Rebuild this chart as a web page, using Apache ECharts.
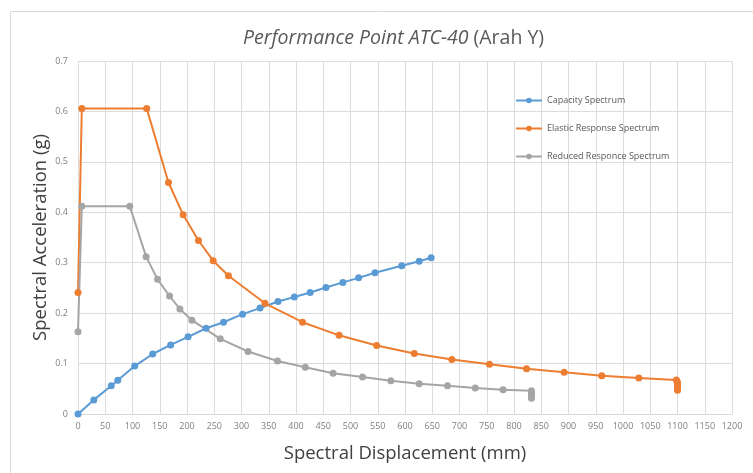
<!DOCTYPE html>
<html>
<head>
<meta charset="utf-8">
<script src="https://cdn.jsdelivr.net/npm/echarts@6/dist/echarts.min.js"></script>
<style>
html,body{margin:0;padding:0;background:#fff;}
#c{width:753px;height:473px;}
</style>
</head>
<body>
<div id="c"></div>
<script>
// ---- data ----
const capacityX = [0, 29, 61, 73, 104, 137, 170, 202, 235, 267, 302, 334, 367, 397, 426, 455, 486, 515, 545, 594, 626, 648];
const capacityY = [0, 0.028, 0.056, 0.067, 0.095, 0.119, 0.137, 0.153, 0.170, 0.182, 0.198, 0.210, 0.223, 0.232, 0.241, 0.251, 0.261, 0.270, 0.280, 0.294, 0.303, 0.310];

const elasticX = [0, 7, 126, 166, 193, 221, 248, 276, 343, 412, 479, 548, 617, 686, 755, 823, 892, 961, 1029, 1098, 1100, 1100, 1100, 1100, 1100];
const elasticY = [0.241, 0.606, 0.606, 0.459, 0.395, 0.344, 0.304, 0.274, 0.2195, 0.182, 0.156, 0.136, 0.120, 0.108, 0.0985, 0.0898, 0.0827, 0.076, 0.0714, 0.0674, 0.063, 0.059, 0.055, 0.051, 0.047];

const reducedX = [0, 7, 95, 125, 146, 168, 187, 209, 261, 312, 366, 417, 468, 522, 574, 626, 678, 729, 780, 832, 832, 832, 832, 832];
const reducedY = [0.163, 0.412, 0.412, 0.312, 0.267, 0.234, 0.208, 0.186, 0.149, 0.124, 0.105, 0.0926, 0.0807, 0.0734, 0.066, 0.060, 0.056, 0.0516, 0.048, 0.046, 0.042, 0.038, 0.034, 0.031];

const seriesNames = ['Capacity Spectrum', 'Elastic Response Spectrum', 'Reduced Responce Spectrum'];
const titleItalic = 'Performance Point ATC-40';
const titlePlain = ' (Arah Y)';
const xName = 'Spectral Displacement (mm)';
const yName = 'Spectral Acceleration (g)';

function pairs(xs, ys){ return xs.map((x,i)=>[x, ys[i]]); }

const colors = ['#5B9BD5', '#ED7D31', '#A5A5A5'];
const FONT = '"Open Sans", sans-serif';

const chart = echarts.init(document.getElementById('c'));
const mk = (name, data, color) => ({
  name, type: 'line', data, smooth: false,
  symbol: 'circle', symbolSize: 7,
  itemStyle: { color },
  lineStyle: { color, width: 2 },
  emphasis: { disabled: true },
  animation: false
});

chart.setOption({
  animation: false,
  textStyle: { fontFamily: FONT },
  graphic: [{
    type: 'rect', left: 8, top: 9, silent: true,
    shape: { width: 760, height: 480 },
    style: { fill: 'none', stroke: '#d9d9d9', lineWidth: 1 }
  }],
  title: {
    text: '{i|' + titleItalic + '}{n|' + titlePlain + '}',
    left: 238, top: 23,
    textStyle: {
      fontWeight: 'normal',
      rich: {
        i: { fontFamily: FONT, fontStyle: 'italic', fontWeight: 'normal', fontSize: 19.5, color: '#595959' },
        n: { fontFamily: FONT, fontWeight: 'normal', fontSize: 19.5, color: '#595959' }
      }
    }
  },
  legend: {
    orient: 'vertical', left: 510, top: 91, itemGap: 19,
    itemWidth: 26, itemHeight: 7,
    textStyle: { fontFamily: FONT, fontSize: 9, color: '#595959' },
    data: seriesNames
  },
  grid: { left: 78, right: 21, top: 61, bottom: 59, containLabel: false },
  xAxis: {
    type: 'value', min: 0, max: 1200, interval: 50,
    name: xName, nameLocation: 'middle', nameGap: 30,
    nameTextStyle: { fontFamily: FONT, fontSize: 18.5, color: '#404040' },
    axisLine: { show: true, lineStyle: { color: '#d9d9d9' } },
    axisTick: { show: false },
    axisLabel: { fontFamily: FONT, fontSize: 9, color: '#7f7f7f', margin: 8, formatter: v => String(v) },
    splitLine: { show: true, lineStyle: { color: '#dcdcdc', width: 1 } }
  },
  yAxis: {
    type: 'value', min: 0, max: 0.7, interval: 0.1,
    name: yName, nameLocation: 'middle', nameGap: 28, nameMoveOverlap: false,
    nameTextStyle: { fontFamily: FONT, fontSize: 18.5, color: '#404040' },
    axisLine: { show: false },
    axisTick: { show: false },
    axisLabel: { fontFamily: FONT, fontSize: 9, color: '#7f7f7f', margin: 10 },
    splitLine: { show: true, lineStyle: { color: '#dcdcdc', width: 1 } }
  },
  series: [
    mk(seriesNames[0], pairs(capacityX, capacityY), colors[0]),
    mk(seriesNames[1], pairs(elasticX, elasticY), colors[1]),
    mk(seriesNames[2], pairs(reducedX, reducedY), colors[2])
  ]
});
</script>
</body>
</html>
